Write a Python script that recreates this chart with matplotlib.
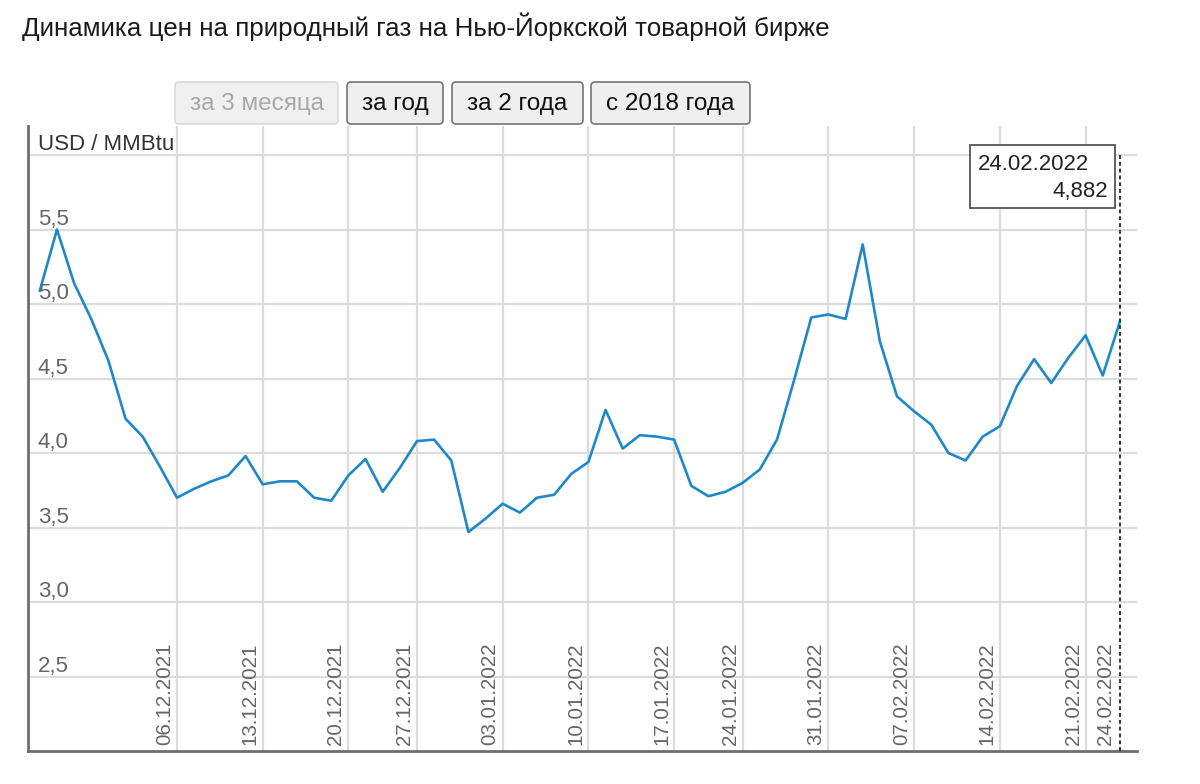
import numpy as np
import pandas as pd
import matplotlib
matplotlib.use("Agg")
import matplotlib.pyplot as plt
from matplotlib.patches import FancyBboxPatch, Rectangle
from matplotlib.transforms import offset_copy, blended_transform_factory, IdentityTransform

plt.rcParams['font.family'] = ['Liberation Sans', 'DejaVu Sans']

# ---------------- data ----------------
title = "Динамика цен на природный газ на Нью-Йоркской товарной бирже"
unit_label = "USD / MMBtu"
buttons = ["за 3 месяца", "за год", "за 2 года", "с 2018 года"]
start_date = "2021-11-23"
end_date = "2022-02-24"
holidays = ["2021-11-25", "2021-12-24", "2022-01-17", "2022-02-21"]
prices = [5.09, 5.50, 5.14, 4.90, 4.62, 4.23, 4.11, 3.91,
          3.70, 3.76, 3.81, 3.85, 3.98,
          3.79, 3.81, 3.81, 3.70, 3.68,
          3.85, 3.96, 3.74, 3.90,
          4.08, 4.09, 3.95, 3.47, 3.56,
          3.66, 3.60, 3.70, 3.72, 3.86,
          3.94, 4.29, 4.03, 4.12, 4.11,
          4.09, 3.78, 3.71, 3.74,
          3.80, 3.89, 4.09, 4.49, 4.91,
          4.93, 4.90, 5.40, 4.75, 4.38,
          4.28, 4.19, 4.00, 3.95, 4.11,
          4.18, 4.45, 4.63, 4.47, 4.64,
          4.79, 4.52, 4.882]
tick_dates = ["2021-12-06", "2021-12-13", "2021-12-20", "2021-12-27",
              "2022-01-03", "2022-01-10", "2022-01-17", "2022-01-24",
              "2022-01-31", "2022-02-07", "2022-02-14", "2022-02-21"]
tick_labels = ["06.12.2021", "13.12.2021", "20.12.2021", "27.12.2021",
               "03.01.2022", "10.01.2022", "17.01.2022", "24.01.2022",
               "31.01.2022", "07.02.2022", "14.02.2022", "21.02.2022"]
y_ticks = [2.5, 3.0, 3.5, 4.0, 4.5, 5.0, 5.5]
y_top_grid = 6.0
tooltip_date = "24.02.2022"
tooltip_value = 4.882

# ---------------- positions (trading-day axis) ----------------
dates = pd.bdate_range(start_date, end_date, freq="C", holidays=holidays)
day_vals = dates.values.astype("datetime64[D]")
x = np.busday_count(np.datetime64(start_date), day_vals, holidays=holidays)
tick_x = np.busday_count(np.datetime64(start_date),
                         np.array(tick_dates, dtype="datetime64[D]"),
                         holidays=holidays)

W, H = 1200, 784
fig = plt.figure(figsize=(W / 100, H / 100), dpi=100)
ax = fig.add_axes([28 / W, 1 - 751 / H, (1137 - 28) / W, (751 - 126) / H])

ax.set_xlim(x[0] - 0.69, x[-1] + 1.0)
ax.set_ylim(2.0, 6.195)

grid_c = "#dcdcdc"
ax.set_xticks(tick_x)
ax.set_yticks(y_ticks + [y_top_grid])
ax.grid(True, color=grid_c, lw=1.6)
ax.set_axisbelow(True)
ax.tick_params(length=0, labelbottom=False, labelleft=False)
for s in ["top", "right"]:
    ax.spines[s].set_visible(False)
for s in ["left", "bottom"]:
    ax.spines[s].set_color("#6e6e6e")
    ax.spines[s].set_linewidth(2.0)

ax.plot(x, prices, color="#1f88c8", lw=1.9, solid_joinstyle="round", zorder=3)

# crosshair at last point
ax.vlines(x[-1], 2.0, y_top_grid, colors="#333333", linestyles=(0, (2, 1.5)),
          lw=1.4, zorder=4)

# y labels inside axes, above gridlines
ytrans = offset_copy(blended_transform_factory(ax.transAxes, ax.transData),
                     fig=fig, x=0, y=5, units="dots")
for v in y_ticks:
    ax.text(0.009, v, f"{v:.1f}".replace(".", ","), transform=ytrans,
            ha="left", va="baseline", color="#666666", fontsize=16)
ax.text(0.009, y_top_grid, unit_label, transform=ytrans, ha="left",
        va="baseline", color="#333333", fontsize=16)

# x labels rotated inside axes
xtrans = offset_copy(blended_transform_factory(ax.transData, ax.transAxes),
                     fig=fig, x=-3, y=6, units="dots")
for xt, lab in zip(tick_x, tick_labels):
    ax.text(xt, 0, lab, transform=xtrans, rotation=90, ha="right",
            va="bottom", color="#666666", fontsize=14.8)
xtrans2 = offset_copy(blended_transform_factory(ax.transData, ax.transAxes),
                      fig=fig, x=-5, y=6, units="dots")
ax.text(x[-1], 0, tooltip_date, transform=xtrans2, rotation=90, ha="right",
        va="bottom", color="#666666", fontsize=14.8)

# title
fig.text(22 / W, 1 - 27 / H, title, ha="left", va="center", fontsize=18.7,
         color="#1a1a1a")

# buttons
ident = IdentityTransform()
btn_boxes = [(175, 338), (347, 443), (452, 583), (591, 750)]
for i, (lab, (x0, x1)) in enumerate(zip(buttons, btn_boxes)):
    y0, y1 = 82, 124
    disabled = i == 0
    patch = FancyBboxPatch((x0, H - y1), x1 - x0, y1 - y0,
                           boxstyle="round,pad=0,rounding_size=4",
                           transform=ident,
                           fc="#f0f0f0" if disabled else "#efefef",
                           ec="#dadada" if disabled else "#767676",
                           lw=1.2)
    fig.add_artist(patch)
    fig.text((x0 + x1) / 2 / W, 1 - 104 / H, lab, ha="center", va="center",
             fontsize=17.5, color="#a8a8a8" if disabled else "#111111")

# tooltip
tip = Rectangle((970, H - 208), 145, 63, transform=ident, fc="white",
                ec="#555555", lw=1.3, zorder=10)
fig.add_artist(tip)
fig.text(978 / W, 1 - 170 / H, tooltip_date, ha="left", va="baseline",
         fontsize=16, color="#222222", zorder=11)
fig.text(1108 / W, 1 - 197 / H, f"{tooltip_value:.3f}".replace(".", ","),
         ha="right", va="baseline", fontsize=16, color="#222222", zorder=11)

fig.savefig("out.png", dpi=100, facecolor="white")
